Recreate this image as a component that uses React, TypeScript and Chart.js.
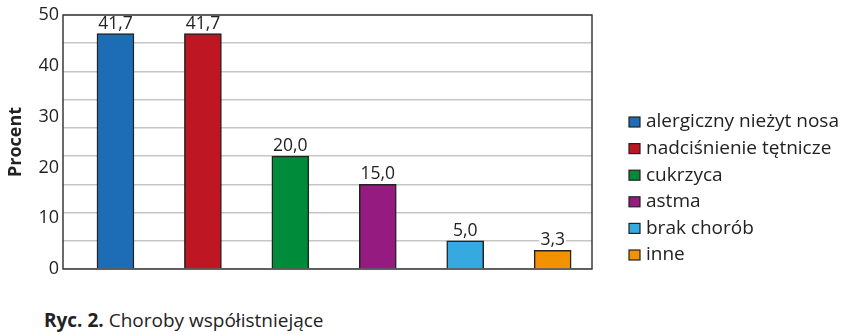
import { useEffect, useRef } from "react";
import { Chart, registerables } from "chart.js";

Chart.register(...registerables);

// Comorbidities (percent of patients)
const categories = [
  "alergiczny nieżyt nosa",
  "nadciśnienie tętnicze",
  "cukrzyca",
  "astma",
  "brak chorób",
  "inne",
];
const percentValues = [41.7, 41.7, 20.0, 15.0, 5.0, 3.3];
const barColors = ["#1d6db6", "#be1622", "#008b3a", "#951b81", "#36a9e1", "#f39200"];
// Printed axis labels (0–50 in steps of 10)
const axisLabelMax = 50;
const axisLabelStep = 10;
// Data axis: grid every 5 up to 45
const gridMax = 45;
const gridStep = 5;

const FONT = "'Open Sans', 'Noto Sans', sans-serif";
const INK = "#222222";

const formatPl = (v: number) => v.toFixed(1).replace(".", ",");

// Bars placed by category index on a numeric x axis
const barPoints = percentValues.map((v, i) => ({ x: i, y: v }));

// Dark frame around the plot area, drawn under the bars
const framePlugin = {
  id: "plotFrame",
  beforeDatasetsDraw(chart: any) {
    const { ctx, chartArea } = chart;
    ctx.save();
    ctx.strokeStyle = "#3a3a3a";
    ctx.lineWidth = 1.5;
    ctx.strokeRect(chartArea.left, chartArea.top, chartArea.right - chartArea.left, chartArea.bottom - chartArea.top);
    ctx.restore();
  },
};

// Value labels above each bar, on a white patch so lines break around them
const valueLabelPlugin = {
  id: "valueLabels",
  afterDatasetsDraw(chart: any) {
    const { ctx } = chart;
    const meta = chart.getDatasetMeta(0);
    ctx.save();
    ctx.font = `17.5px ${FONT}`;
    ctx.textAlign = "center";
    ctx.textBaseline = "middle";
    meta.data.forEach((bar: any, i: number) => {
      const text = formatPl(percentValues[i]);
      const w = ctx.measureText(text).width;
      const cy = bar.y - 10;
      ctx.fillStyle = "#ffffff";
      ctx.fillRect(bar.x - w / 2 - 1, cy - 6, w + 2, 12);
      ctx.fillStyle = INK;
      ctx.fillText(text, bar.x, cy);
    });
    ctx.restore();
  },
};

// Category key to the right of the plot
const keyPlugin = {
  id: "categoryKey",
  afterDraw(chart: any) {
    const { ctx, chartArea } = chart;
    const boxX = chartArea.right + 37;
    const textX = boxX + 17;
    const firstY = 122;
    const rowGap = 26.6;
    ctx.save();
    ctx.font = `19px ${FONT}`;
    ctx.textAlign = "left";
    ctx.textBaseline = "middle";
    categories.forEach((label, i) => {
      const cy = firstY + i * rowGap;
      ctx.fillStyle = barColors[i];
      ctx.fillRect(boxX, cy - 5, 11, 10);
      ctx.strokeStyle = INK;
      ctx.lineWidth = 1.2;
      ctx.strokeRect(boxX, cy - 5, 11, 10);
      ctx.fillStyle = INK;
      ctx.fillText(label, textX, cy);
    });
    ctx.restore();
  },
};

export default function App() {
  const canvasRef = useRef<HTMLCanvasElement>(null);

  useEffect(() => {
    document.body.style.margin = "0";
    const chart = new Chart(canvasRef.current!, {
      type: "bar",
      data: {
        datasets: [
          {
            data: barPoints,
            backgroundColor: barColors,
            borderColor: INK,
            borderWidth: 1.5,
            barThickness: 37,
            yAxisID: "y",
          },
        ],
      },
      options: {
        animation: false,
        responsive: true,
        maintainAspectRatio: false,
        layout: { padding: { top: 15, left: 0, right: 254, bottom: 21 } },
        scales: {
          x: {
            type: "linear",
            display: false,
            offset: false,
            min: -0.6,
            max: 5.45,
          },
          y: {
            position: "right",
            min: 0,
            max: gridMax,
            ticks: { display: false, stepSize: gridStep },
            grid: { color: "#c6c6c6", lineWidth: 1.5, drawTicks: false },
            border: { display: false },
            afterFit: (s: any) => {
              s.width = 0;
            },
          },
          y2: {
            position: "left",
            min: 0,
            max: axisLabelMax,
            ticks: {
              stepSize: axisLabelStep,
              color: INK,
              font: { family: FONT, size: 18 },
              padding: 4,
            },
            grid: { display: false, drawTicks: false },
            border: { display: false },
            title: {
              display: true,
              text: "Procent",
              color: INK,
              font: { family: FONT, size: 18, weight: "bold" },
              padding: { top: 5, bottom: 0 },
            },
            afterFit: (s: any) => {
              s.width = 63;
            },
          },
        },
        plugins: {
          tooltip: { enabled: false },
          legend: { display: false },
        },
      },
      plugins: [framePlugin, valueLabelPlugin, keyPlugin],
    });
    return () => chart.destroy();
  }, []);

  return (
    <div style={{ position: "relative", width: 846, height: 334, background: "#ffffff", fontFamily: FONT }}>
      <div style={{ position: "absolute", left: 0, top: 0, width: 846, height: 290 }}>
        <canvas ref={canvasRef} />
      </div>
      <div
        style={{
          position: "absolute",
          left: 44,
          top: 307,
          fontSize: 19,
          lineHeight: "26px",
          color: INK,
          whiteSpace: "nowrap",
        }}
      >
        <b>Ryc. 2.</b> Choroby współistniejące
      </div>
    </div>
  );
}
